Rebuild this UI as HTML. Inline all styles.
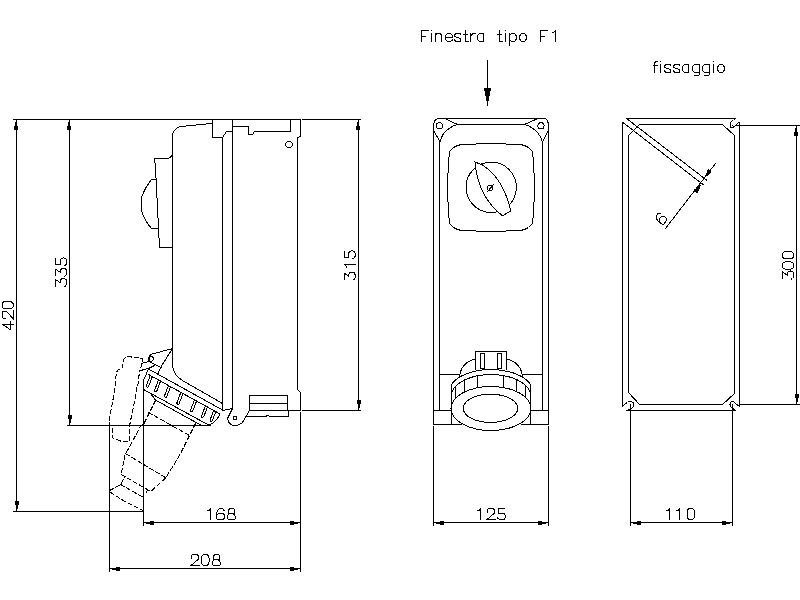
<!DOCTYPE html>
<html><head><meta charset="utf-8"><title>drawing</title>
<style>html,body{margin:0;padding:0;background:#fff;width:800px;height:600px;overflow:hidden}svg{display:block}</style>
</head><body>
<svg width="800" height="600" viewBox="0 0 800 600">
<style>
.g line,.g path,.g circle,.g ellipse{fill:none;stroke:#000;stroke-width:1;stroke-linecap:square}
.g polygon.f{fill:#000;stroke:none}
.g .d path{stroke-dasharray:4,3}
</style>
<rect width="800" height="600" fill="#fff"/>
<g class="g" transform="translate(0.5,0.5)" shape-rendering="crispEdges">
<line x1="13" y1="119" x2="300" y2="119"/><line x1="302" y1="119" x2="360" y2="119"/><line x1="302" y1="410" x2="360" y2="410"/><line x1="16" y1="119" x2="16" y2="511"/><polygon class="f" points="15.50,119.50 17.90,129.50 13.10,129.50"/><polygon class="f" points="16.50,510.50 14.10,500.50 18.90,500.50"/><line x1="69" y1="119" x2="69" y2="425"/><polygon class="f" points="68.50,119.50 70.90,129.50 66.10,129.50"/><polygon class="f" points="69.50,424.50 67.10,414.50 71.90,414.50"/><line x1="67" y1="425" x2="210" y2="425"/><line x1="13" y1="511" x2="143" y2="511"/><line x1="109" y1="424" x2="109" y2="571"/><line x1="143" y1="382" x2="143" y2="525"/><line x1="143" y1="522" x2="300" y2="522"/><polygon class="f" points="143.50,522.50 153.50,520.10 153.50,524.90"/><polygon class="f" points="299.50,522.50 289.50,524.90 289.50,520.10"/><line x1="109" y1="568" x2="300" y2="568"/><polygon class="f" points="109.50,568.50 119.50,566.10 119.50,570.90"/><polygon class="f" points="299.50,568.50 289.50,570.90 289.50,566.10"/><line x1="300" y1="412" x2="300" y2="571"/><line x1="358" y1="119" x2="358" y2="410"/><polygon class="f" points="357.50,119.50 359.90,129.50 355.10,129.50"/><polygon class="f" points="358.50,409.50 356.10,399.50 360.90,399.50"/><path d="M172,365 L172,133 L173,131.5 L174,130 L176,128 L177.5,127 L179,126.2 L212,122.8"/><path d="M212,119 L212,137 L222,137 L226,131 L232,131"/><line x1="222" y1="137" x2="222" y2="410"/><line x1="232" y1="119" x2="232" y2="408"/><path d="M232,126 L248,126 L248,134 L252,134 L254,131 L290,131 L290,119"/><path d="M300,119 L300,136 L297,137 L297,389 L300,392 L300,410"/><circle cx="288.5" cy="144" r="3.2"/><path d="M172,153 Q171,158 166,158 L154,158 L155,167 L159,247 L172,247"/><path d="M155,179 L151,179 Q144,188 141,197 L141,210 Q144,220 151,228 L158,228"/><path d="M172,365 Q173,375 182,380 L222,403"/><line x1="222" y1="410" x2="232" y2="408"/><path d="M232,408 L227,418 Q228,425 235,425 Q239,425 242,422 L249,410"/><circle cx="234.5" cy="417.5" r="1.8"/><path d="M249,395 L287,395 L287,410 L249,410 Z"/><line x1="249" y1="403" x2="287" y2="403"/><path d="M247,416 L265,416 L267,415 L270,416 L288,416 L288,410"/><line x1="288" y1="410" x2="300" y2="410"/><path d="M172,348 L150,354 L148.5,357 L148.5,361 L160.5,367"/><path d="M172,348 L160,367 L157.5,373"/><circle cx="150.3" cy="358.3" r="2.5"/><path d="M148,361 L141,363"/><path d="M139,370 L148,368 L154,365"/><path d="M148,368.5 L222,409.5"/><path d="M148,374 L219.5,413.5"/><path d="M144,389.5 L209,425"/><path d="M148,368.5 L142.5,381 L142.5,387 L144,389.5"/><path d="M219.5,413.5 Q216,421 209,424.5"/><path d="M149.7,375.1 L145.7,385.7 Q146.3,387.5 147.9,386.5 L151.9,376.0"/><path d="M157.9,379.6 L153.9,390.2 Q154.5,392.0 156.1,391.1 L160.1,380.5"/><path d="M167.9,385.2 L163.9,395.7 Q164.5,397.6 166.1,396.6 L170.1,386.0"/><path d="M180.3,392.0 L176.3,402.6 Q176.9,404.4 178.5,403.4 L182.5,392.9"/><path d="M193.9,399.5 L189.9,410.1 Q190.5,411.9 192.1,410.9 L196.1,400.4"/><path d="M204.8,405.5 L200.8,416.1 Q201.4,417.9 203.0,417.0 L207.0,406.4"/><path d="M213.1,410.1 L209.5,419.8 Q210.1,421.6 211.7,420.6 L215.4,411.0"/><path d="M150.5,393.5 L155,399.5 L201,425"/>
<g class="d"><path d="M141.5,361 L141.5,358 L138,357 L131,357 L130.5,356 L126,356 Q124,357 123,360 L122,363.5 L122,367 L121,368.5 L118,369 L116.5,371 L116,374 L115,377 L114.5,388 L108.5,421 L109,425 L111.5,426 L111.5,436.5 L113,438 L120,440.5 L128.5,441 L129,425.5 L135.5,393.5 L136,387 L137.5,383.5 L138,376 L139,374 L139.5,370 L145,369"/><path d="M141.3,363.3 L140.3,367.3"/><path d="M155,400 L149,412 L143.5,423 L140.5,425 L124.5,454.5 L120.7,474 L124.7,476 L120,484 L108,490.7 L122.7,500 L142.7,510"/><path d="M195,423 L179,455 L165.3,477.3 L150.7,490.7 L147.3,489.3 L144.7,493.3"/><path d="M148,412 L189,435"/><path d="M125.3,453.3 L165.3,477.3"/><path d="M120.7,474 L147,489"/><path d="M120,484 L143,497"/></g>
<line x1="487" y1="60" x2="487" y2="96"/><polygon class="f" points="487.00,105.50 483.50,87.50 490.50,87.50"/><path d="M433,424 L433,126 C433,121 435,118 439,118 L543,118 C546,118 548,121 548,126 L548,424"/><line x1="439" y1="141" x2="439" y2="410"/><line x1="542" y1="143" x2="542" y2="410"/><line x1="457" y1="124" x2="524" y2="124"/><path d="M444.5,118 L457,124 C452,125 441,131 440,141"/><line x1="433" y1="130" x2="439.5" y2="141"/><circle cx="439" cy="125.2" r="3.1"/><path d="M537.5,118 L524,124 C529,125 541,132 542,143"/><line x1="548" y1="130" x2="542.5" y2="140.5"/><circle cx="540.5" cy="125.3" r="3.1"/><path d="M447,187 L447,173 L448,172 L448,157 L449,156 L449,151 L450,150 L451,149 L452,148 L453,147 L455,146 L457,145 L461,144 L475,144 L476,143 L490.5,143 L505,143 L506,144 L520,144 L524,145 L526,146 L528,147 L529,148 L530,149 L531,150 L532,151 L532,156 L533,157 L533,172 L534,173 L534,187 L534,201 L533,202 L533,217 L532,218 L532,223 L531,224 L530,225 L529,226 L528,227 L526,228 L524,229 L520,230 L506,230 L505,231 L490.5,231 L476,231 L475,230 L461,230 L457,229 L455,228 L453,227 L452,226 L451,225 L450,224 L449,223 L449,218 L448,217 L448,202 L447,201 L447,187 Z"/><circle cx="490.7" cy="186.8" r="25.2"/><path style="fill:#fff" d="M474.5,161.5 L482,164.5 Q502.5,177.5 510.3,210.3 L502,215.3 Q477.5,196.5 474.5,161.5 Z"/><circle cx="489.7" cy="187.3" r="2.8"/><line x1="487" y1="191" x2="493" y2="184"/><line x1="439" y1="374" x2="459" y2="374"/><line x1="523" y1="374" x2="542" y2="374"/><line x1="433" y1="410" x2="451" y2="410"/><line x1="531" y1="410" x2="548" y2="410"/><line x1="433" y1="424" x2="461" y2="424"/><line x1="521" y1="424" x2="548" y2="424"/><line x1="451" y1="385" x2="451" y2="424"/><line x1="530" y1="385" x2="530" y2="424"/><path d="M475,369 L475,351 L506,351 L506,369"/><path d="M480,353 L484,353 L484,368 L480,368 Z"/><path d="M497,353 L501,353 L501,368 L497,368 Z"/><path d="M459,377 Q460,362 475,358.5"/><path d="M506,358.5 Q521,362 522,377"/><path d="M450.8,384.16 A42,22.5 0 0 1 530.2,384.16"/><path d="M451,392.53 A40,22 0 0 1 530,392.53"/><ellipse cx="490.5" cy="408" rx="40" ry="22"/><ellipse cx="490" cy="407.8" rx="27.2" ry="14.1"/><line x1="455.0" y1="385.9" x2="455.0" y2="397.9"/><line x1="464.1" y1="379.5" x2="464.1" y2="391.5"/><line x1="477.2" y1="375.3" x2="477.2" y2="387.3"/><line x1="503.0" y1="375.1" x2="503.0" y2="387.1"/><line x1="516.1" y1="379.1" x2="516.1" y2="391.1"/><line x1="525.3" y1="385.2" x2="525.3" y2="397.2"/><line x1="433" y1="426" x2="433" y2="525"/><line x1="548" y1="426" x2="548" y2="525"/><line x1="433" y1="522" x2="548" y2="522"/><polygon class="f" points="433.50,522.50 443.50,520.10 443.50,524.90"/><polygon class="f" points="547.50,522.50 537.50,524.90 537.50,520.10"/>
<line x1="622" y1="122" x2="622" y2="406"/><line x1="626" y1="118" x2="735" y2="118"/><line x1="739" y1="122" x2="739" y2="406"/><line x1="626" y1="410" x2="735" y2="410"/><path d="M628,392 L628,135 L639,124 L722,124 L734,135 L734,393 L722,404 L639,404 Z"/><path d="M735,118 L733,120 Q729.5,121 729.5,124.5 Q730,127.5 731.5,127.5 L735,125 L738,122"/><path d="M739,406 L735,403 Q734.5,401 732,401 L731,401 Q729.5,402 729.5,404 Q730,407 733,408.5 L735,410"/><path d="M622,406 L625,403 L627,402 Q628,401 630,401 Q633,401.5 633.5,404 Q633,407 630,408.5 L626,410"/><rect x="731.5" y="124.5" width="1" height="1" style="fill:#000;stroke:none"/><line x1="626" y1="118" x2="706" y2="179.5"/><line x1="622.5" y1="122" x2="702.5" y2="184"/><line x1="715" y1="163" x2="665" y2="228"/><polygon class="f" points="703.50,178.00 707.50,168.50 711.50,171.50"/><polygon class="f" points="701.00,183.30 697.00,192.80 693.00,189.80"/><line x1="735" y1="125" x2="800" y2="125"/><line x1="739" y1="404" x2="800" y2="404"/><line x1="796" y1="125" x2="796" y2="404"/><polygon class="f" points="795.50,125.50 797.90,135.50 793.10,135.50"/><polygon class="f" points="796.50,403.50 794.10,393.50 798.90,393.50"/><line x1="630" y1="404" x2="630" y2="525"/><line x1="732" y1="404" x2="732" y2="525"/><line x1="630" y1="522" x2="732" y2="522"/><polygon class="f" points="630.50,522.50 640.50,520.10 640.50,524.90"/><polygon class="f" points="731.50,522.50 721.50,524.90 721.50,520.10"/>
<path transform="translate(1.5,329) rotate(-90) translate(0.0,0)" d="M5.5,11 L5.5,0 L0,8 L8.5,8"/><path transform="translate(1.5,329) rotate(-90) translate(10.3,0)" d="M0.5,3.5 L0.5,1.5 L2,0 L6.5,0 L7.5,1 L8,2 L8,4.5 L0.5,11 L8.5,11"/><path transform="translate(1.5,329) rotate(-90) translate(20.6,0)" d="M2,0 L5.5,0 L7,1.5 L7.5,3.5 L7.5,7.5 L7,9.5 L5.5,11 L2,11 L0.5,9.5 L0,7.5 L0,3.5 L0.5,1.5 Z"/><path transform="translate(55,286) rotate(-90) translate(0.0,0)" d="M0.5,0 L7,0 L4,4.5 L5.5,4.5 L7.5,6 L8,8 L7,10.5 L5.5,11 L2,11 L0.5,10 L0,9"/><path transform="translate(55,286) rotate(-90) translate(10.3,0)" d="M0.5,0 L7,0 L4,4.5 L5.5,4.5 L7.5,6 L8,8 L7,10.5 L5.5,11 L2,11 L0.5,10 L0,9"/><path transform="translate(55,286) rotate(-90) translate(20.6,0)" d="M7,0 L1,0 L1,4.5 L5,4.5 L7,5.5 L8,8 L7,10.5 L5.5,11 L2,11 L0.5,10 L0,9"/><path transform="translate(343.5,279.5) rotate(-90) translate(0,0)" d="M0.5,0 L7,0 L4,4.5 L5.5,4.5 L7.5,6 L8,8 L7,10.5 L5.5,11 L2,11 L0.5,10 L0,9"/><path transform="translate(343.5,279.5) rotate(-90) translate(12.2,0)" d="M0,2 L1.5,2 L3,0.5 M3,0 L3,11"/><path transform="translate(343.5,279.5) rotate(-90) translate(21.5,0)" d="M7,0 L1,0 L1,4.5 L5,4.5 L7,5.5 L8,8 L7,10.5 L5.5,11 L2,11 L0.5,10 L0,9"/><path transform="translate(207,508)" d="M0,2 L1.5,2 L3,0.5 M3,0 L3,11"/><path transform="translate(216,508)" d="M7.5,2 L6,0 L3,0 L1,2 L0,5 L0,10 L1,11 L6.5,11 L7.5,10 L7.5,6 L6,4.5 L2.5,4.5 L0,6.5"/><path transform="translate(226.5,508)" d="M3,0 L6.5,0 L7.5,1 L7.5,4.5 L6.5,5 L2,5 L1.5,4 L1.5,1.5 Z M2,5 L0.5,7 L0.5,9.5 L1.5,11 L7.5,11 L8.5,9.5 L8.5,8 L7,6 L6.5,5"/><path transform="translate(190,554)" d="M0.5,3.5 L0.5,1.5 L2,0 L6.5,0 L7.5,1 L8,2 L8,4.5 L0.5,11 L8.5,11"/><path transform="translate(201,554)" d="M2,0 L5.5,0 L7,1.5 L7.5,3.5 L7.5,7.5 L7,9.5 L5.5,11 L2,11 L0.5,9.5 L0,7.5 L0,3.5 L0.5,1.5 Z"/><path transform="translate(211.5,554)" d="M3,0 L6.5,0 L7.5,1 L7.5,4.5 L6.5,5 L2,5 L1.5,4 L1.5,1.5 Z M2,5 L0.5,7 L0.5,9.5 L1.5,11 L7.5,11 L8.5,9.5 L8.5,8 L7,6 L6.5,5"/><path transform="translate(421,30)" d="M0,11 L0,0 L7,0 M0,5.5 L4,5.5"/><path transform="translate(431,30)" d="M0,3 L0,11 M0,0 L0.6,-0.6"/><path transform="translate(435,30)" d="M0,3 L0,11 M0,4.5 L1.5,3 L4.5,3 L6,4.5 L6,11"/><path transform="translate(445,30)" d="M0,7 L7,7 L7,5 L5,3 L2,3 L0,5 L0,9 L2,11 L5,11 L7,9.5"/><path transform="translate(454,30)" d="M6.5,4.5 L5.5,3 L1.5,3 L0,4.5 L0.5,6 L6,8 L6.5,9.5 L5.5,11 L1.5,11 L0,9.5"/><path transform="translate(463,30)" d="M1.5,0 L1.5,10 L2.5,11 L4.5,11 M0,3.5 L4,3.5"/><path transform="translate(470,30)" d="M0,3 L0,11 M0,6 L1.5,4 L2.5,3 L4.5,3"/><path transform="translate(477,30)" d="M6,3 L6,11 M6,3 L2,3 L0,5 L0,9 L2,11 L6,11"/><path transform="translate(497,30)" d="M1.5,0 L1.5,10 L2.5,11 L4.5,11 M0,3.5 L4,3.5"/><path transform="translate(505,30)" d="M0,3 L0,11 M0,0 L0.6,-0.6"/><path transform="translate(509,30)" d="M0,3 L0,15 M0,5 L2,3 L5,3 L6.5,5 L6.5,9 L5,11 L2,11 L0,9"/><path transform="translate(519,30)" d="M2,3 L5,3 L7,5.5 L7,8.5 L5,11 L2,11 L0,8.5 L0,5.5 Z"/><path transform="translate(540,30)" d="M0,11 L0,0 L7,0 M0,5.5 L4,5.5"/><path transform="translate(551.5,30)" d="M0,2 L1.5,2 L3,0.5 M3,0 L3,11"/><path transform="translate(477,508)" d="M0,2 L1.5,2 L3,0.5 M3,0 L3,11"/><path transform="translate(486,508)" d="M0.5,3.5 L0.5,1.5 L2,0 L6.5,0 L7.5,1 L8,2 L8,4.5 L0.5,11 L8.5,11"/><path transform="translate(497,508)" d="M7,0 L1,0 L1,4.5 L5,4.5 L7,5.5 L8,8 L7,10.5 L5.5,11 L2,11 L0.5,10 L0,9"/><path transform="translate(652.5,61)" d="M1.5,11 L1.5,1.5 L3,0 L4.5,0 M0,3.5 L4.5,3.5"/><path transform="translate(660,61)" d="M0,3 L0,11 M0,0 L0.6,-0.6"/><path transform="translate(664,61)" d="M6.5,4.5 L5.5,3 L1.5,3 L0,4.5 L0.5,6 L6,8 L6.5,9.5 L5.5,11 L1.5,11 L0,9.5"/><path transform="translate(673,61)" d="M6.5,4.5 L5.5,3 L1.5,3 L0,4.5 L0.5,6 L6,8 L6.5,9.5 L5.5,11 L1.5,11 L0,9.5"/><path transform="translate(682,61)" d="M6,3 L6,11 M6,3 L2,3 L0,5 L0,9 L2,11 L6,11"/><path transform="translate(692,61)" d="M7,3 L7,12.5 L6,14 L2,14 M7,3 L2,3 L0,5 L0,9 L2,11 L7,11"/><path transform="translate(702,61)" d="M7,3 L7,12.5 L6,14 L2,14 M7,3 L2,3 L0,5 L0,9 L2,11 L7,11"/><path transform="translate(713,61)" d="M0,3 L0,11 M0,0 L0.6,-0.6"/><path transform="translate(717,61)" d="M2,3 L5,3 L7,5.5 L7,8.5 L5,11 L2,11 L0,8.5 L0,5.5 Z"/><path transform="translate(662.5,224.5) rotate(-52) translate(0,-11)" d="M7.5,2 L6,0 L3,0 L1,2 L0,5 L0,10 L1,11 L6.5,11 L7.5,10 L7.5,6 L6,4.5 L2.5,4.5 L0,6.5"/><path transform="translate(782,278.5) rotate(-90) translate(0,0)" d="M0.5,0 L7,0 L4,4.5 L5.5,4.5 L7.5,6 L8,8 L7,10.5 L5.5,11 L2,11 L0.5,10 L0,9"/><path transform="translate(782,278.5) rotate(-90) translate(9.7,0)" d="M2,0 L5.5,0 L7,1.5 L7.5,3.5 L7.5,7.5 L7,9.5 L5.5,11 L2,11 L0.5,9.5 L0,7.5 L0,3.5 L0.5,1.5 Z"/><path transform="translate(782,278.5) rotate(-90) translate(20.2,0)" d="M2,0 L5.5,0 L7,1.5 L7.5,3.5 L7.5,7.5 L7,9.5 L5.5,11 L2,11 L0.5,9.5 L0,7.5 L0,3.5 L0.5,1.5 Z"/><path transform="translate(666,508)" d="M0,2 L1.5,2 L3,0.5 M3,0 L3,11"/><path transform="translate(676,508)" d="M0,2 L1.5,2 L3,0.5 M3,0 L3,11"/><path transform="translate(686.5,508)" d="M2,0 L5.5,0 L7,1.5 L7.5,3.5 L7.5,7.5 L7,9.5 L5.5,11 L2,11 L0.5,9.5 L0,7.5 L0,3.5 L0.5,1.5 Z"/>
</g>
</svg>
</body></html>
